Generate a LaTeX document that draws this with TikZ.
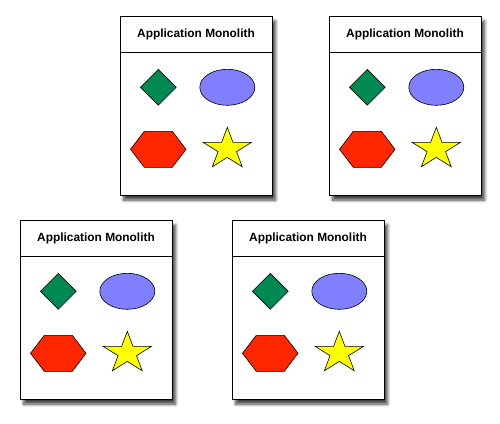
\documentclass[tikz,border=0pt]{standalone}
\usepackage{fontspec}
\setmainfont{Liberation Sans}
\usetikzlibrary{shapes.geometric,shadows.blur}
\definecolor{monogreen}{HTML}{008952}
\definecolor{monoblue}{HTML}{8080FF}
\definecolor{monored}{HTML}{FF2600}
\definecolor{monoyellow}{HTML}{FFFF00}
\begin{document}
\begin{tikzpicture}[x=1pt,y=-1pt,
    monolith/.style={draw,line width=1.1pt,fill=white,minimum width=152,minimum height=179,inner sep=0pt,
      blur shadow={shadow xshift=3pt,shadow yshift=-4.5pt,shadow blur radius=3pt,shadow blur steps=8,shadow opacity=75}},
    part/.style={draw,line width=0.6pt,inner sep=0pt},
    title/.style={font=\bfseries\fontsize{11.9}{14}\selectfont}]
    \useasboundingbox (0,0) rectangle (500,423);
    % 4 つの monolith
    \foreach \n/\x/\y in {a/120/16,b/329/16,c/20/220,d/232/220}{
    \begin{scope}[shift={(\x,\y)}]
    \node[monolith,anchor=north west] (box\n) at (0,0) {};
    \node[title] (title\n) at (76,18) {Application Monolith};
    \draw[line width=0.9pt] ([yshift=-36.3pt]box\n.north west) -- ([yshift=-36.3pt]box\n.north east);
    % shapes
    \node[part,diamond,fill=monogreen,minimum width=36,minimum height=36] (diamond\n) at (38.3,71.3) {};
    \node[part,ellipse,fill=monoblue,minimum width=55,minimum height=36] (ellipse\n) at (107.3,71.3) {};
    \draw[part,fill=monored] (10.5,133.3) -- (24.3,115.3) -- (52.3,115.3) -- (66,133.3) -- (52.3,151.3) -- (24.3,151.3) -- cycle;
    \begin{scope}[shift={(107.3,133.1)}]
    \draw[part,fill=monoyellow,line join=miter] (-90:25.4 and 21.8)
      \foreach \a in {0,...,4}{ -- ({-54+72*\a}:9.7 and 8.3) -- ({-18+72*\a}:25.4 and 21.8)} -- cycle;
    \end{scope}
    \end{scope}
    }
\end{tikzpicture}
\end{document}
